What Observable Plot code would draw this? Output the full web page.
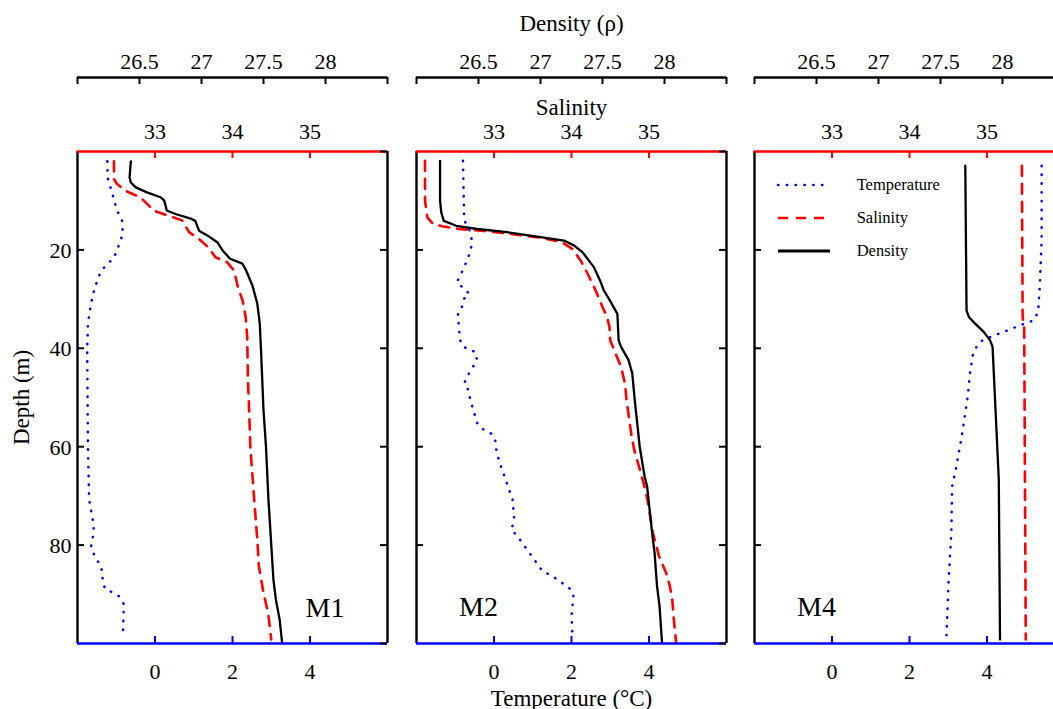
<!DOCTYPE html>
<html><head><meta charset="utf-8">
<script src="https://cdn.jsdelivr.net/npm/d3@7"></script>
<script src="https://cdn.jsdelivr.net/npm/@observablehq/plot@0.6"></script>
<style>
html,body{margin:0;padding:0;background:#fff;overflow:hidden;}
#chart{position:relative;width:1053px;height:709px;overflow:hidden;background:#fff;}
#chart svg{position:absolute;top:0;}
</style></head><body><div id="chart"></div>
<script>
// ---- scales / ticks ----
const tempDomain = [-2, 6];
const salDomain = [32, 36];
const densDomain = [26, 28.5];
const depthDomain = [0, 100];
const tempTicks = [0, 2, 4];
const salTicks = [33, 34, 35];
const densTicks = [26, 26.5, 27, 27.5, 28, 28.5];
const densLabels = [26.5, 27, 27.5, 28];
const depthTicks = [20, 40, 60, 80];
const depthTicksRight = [0, 20, 40, 60, 80, 100];
const stationNames = ["M1", "M2", "M4"];
const legendNames = ["Temperature", "Salinity", "Density"];

// ---- data: [depth (m), value] ----
const m1Temperature = [[2,-1.23],[5.4,-1.22],[8.6,-1.10],[12,-0.98],[14,-0.85],[16.7,-0.83],[18.7,-0.92],[20.2,-0.98],[21.8,-1.08],[23.2,-1.28],[24.8,-1.42],[27.6,-1.55],[29.7,-1.62],[32.3,-1.68],[35,-1.73],[40.4,-1.75],[50,-1.74],[60,-1.73],[70.8,-1.70],[74.2,-1.62],[76.2,-1.58],[78.2,-1.60],[80.3,-1.65],[82.6,-1.54],[84,-1.41],[85.6,-1.36],[87.3,-1.35],[88.9,-1.29],[89.6,-1.10],[90.4,-0.93],[91.9,-0.81],[93.7,-0.81],[98.8,-0.83]];
const m1Salinity = [[2,32.47],[5.6,32.47],[6.6,32.51],[8,32.62],[9.3,32.81],[11,32.92],[12,32.98],[13,33.16],[14,33.35],[16.4,33.44],[17.8,33.57],[19.5,33.69],[21.5,33.78],[22.5,33.93],[24.2,34.02],[27.6,34.07],[30.3,34.13],[33.7,34.17],[37.7,34.19],[47,34.2],[50.5,34.21],[60,34.23],[70.8,34.28],[78.9,34.32],[84.3,34.34],[89.7,34.40],[93.8,34.46],[99.2,34.50]];
const m1Density = [[2,26.43],[5.3,26.42],[6.3,26.43],[7.3,26.47],[8.3,26.56],[9.3,26.67],[10,26.70],[12,26.72],[12.7,26.79],[13.7,26.92],[14.1,26.95],[16.1,26.98],[17.1,27.05],[18.5,27.13],[20.1,27.17],[21.8,27.23],[22.8,27.33],[24.2,27.36],[27.2,27.41],[30.9,27.45],[35,27.47],[40.4,27.48],[52.6,27.50],[60,27.52],[70.8,27.54],[78.9,27.56],[87,27.58],[91.1,27.60],[95.1,27.63],[99.8,27.65]];

const m2Temperature = [[1.9,-0.80],[14,-0.77],[15.7,-0.64],[18.1,-0.57],[20.1,-0.60],[21.8,-0.68],[23.5,-0.77],[25.2,-0.87],[26.6,-0.96],[27.6,-0.81],[28.9,-0.64],[29.9,-0.77],[31.3,-0.81],[33,-0.93],[36.4,-0.90],[38.4,-0.87],[39.7,-0.79],[40.8,-0.47],[42.4,-0.44],[44.5,-0.60],[45.8,-0.70],[47.2,-0.77],[48.5,-0.66],[50.2,-0.62],[53.2,-0.51],[55.3,-0.43],[56.6,-0.26],[57.3,-0.08],[58.6,0.03],[61.3,0.07],[64,0.18],[66.7,0.30],[70.8,0.48],[74.8,0.52],[76.9,0.45],[78.2,0.61],[80.9,0.85],[83.6,1.10],[85.3,1.25],[86.3,1.51],[88,1.81],[89,1.98],[90.4,2.05],[94.4,2.0],[99.2,2.03]];
const m2Salinity = [[1.9,32.11],[10,32.11],[13.4,32.14],[14.7,32.21],[15.2,32.33],[15.75,32.55],[16.15,32.87],[16.8,33.24],[17.6,33.63],[18.45,33.88],[19.8,34.01],[22.2,34.12],[24.9,34.21],[28.2,34.31],[31.6,34.40],[33.7,34.46],[35.7,34.49],[38.4,34.50],[41.1,34.57],[43.8,34.64],[47.2,34.69],[50.5,34.71],[57.3,34.77],[60.7,34.81],[64,34.87],[67.4,34.93],[70.8,34.98],[77.5,35.05],[82.3,35.13],[85.6,35.22],[88.4,35.27],[91.1,35.30],[95.1,35.32],[99.8,35.35]];
const m2Density = [[1.9,26.19],[10,26.19],[12.4,26.20],[14.1,26.22],[15.1,26.32],[15.75,26.49],[16.4,26.73],[17.4,27.00],[18.1,27.19],[19.1,27.27],[20.5,27.34],[23.5,27.43],[26.2,27.48],[28.2,27.51],[30.3,27.56],[33,27.62],[38.4,27.63],[39.7,27.65],[42.4,27.71],[45.1,27.74],[50.5,27.76],[60,27.80],[66.1,27.84],[68.1,27.86],[77.5,27.90],[81.6,27.92],[88.4,27.94],[92.4,27.96],[99.8,27.98]];

const m4Temperature = [[2.9,5.41],[18.1,5.41],[27.6,5.36],[32.6,5.32],[34.3,5.21],[35.3,4.86],[36.4,4.52],[37.4,4.18],[38.4,3.88],[39.4,3.75],[41.1,3.64],[45.1,3.56],[49.2,3.51],[50.5,3.49],[57.3,3.36],[64,3.21],[68.1,3.10],[77.5,3.08],[87,3.01],[99.2,2.95]];
const m4Salinity = [[2.9,35.45],[33.7,35.46],[35.7,35.48],[99.2,35.50]];
const m4Density = [[2.9,27.70],[32.3,27.71],[33.7,27.73],[35,27.78],[36.7,27.85],[38.4,27.90],[39.7,27.92],[45.1,27.93],[50.5,27.94],[66.7,27.97],[99.2,27.98]];

// ---- map secondary quantities onto the temperature axis ----
const lin = (dom) => d3.scaleLinear().domain(dom).range(tempDomain);
const salToT = lin(salDomain);
const densToT = lin(densDomain);

const FONT = "'Liberation Serif', 'Times New Roman', serif";
const W = 397, H = 709, ML = 77, MR = 10, MT = 151, MB = 66;
const frameH = H - MT - MB, frameW = W - ML - MR, TICK = 7;
const DENS_OFFSET = -74;

const tempStyle = {stroke: "#0000ff", strokeWidth: 2.5, strokeDasharray: "0.4,8.4", strokeLinecap: "round"};
const salStyle = {stroke: "#ff0000", strokeWidth: 2.6, strokeDasharray: "10,8"};
const densStyle = {stroke: "#000000", strokeWidth: 2.3};

function panel(temp, sal, dens, name, idx) {
  const marks = [
    Plot.line(temp, {x: d => d[1], y: d => d[0], ...tempStyle}),
    Plot.line(sal, {x: d => salToT(d[1]), y: d => d[0], ...salStyle}),
    Plot.line(dens, {x: d => densToT(d[1]), y: d => d[0], ...densStyle}),
    Plot.ruleX(tempDomain, {stroke: "black", strokeWidth: 2.4}),
    Plot.ruleY([depthDomain[0]], {stroke: "#ff0000", strokeWidth: 2.6}),
    Plot.ruleY([depthDomain[1]], {stroke: "#0000ff", strokeWidth: 2.6}),
    Plot.ruleX(salTicks.map(salToT), {stroke: "#ff0000", strokeWidth: 2, insetBottom: frameH - TICK}),
    Plot.ruleX(tempTicks, {stroke: "#0000ff", strokeWidth: 2, insetTop: frameH - TICK}),
    Plot.ruleY(depthTicks, {stroke: "black", strokeWidth: 2, insetRight: frameW - TICK}),
    Plot.ruleY(depthTicksRight, {stroke: "black", strokeWidth: 2, insetLeft: frameW - TICK}),
    // density axis above
    Plot.ruleY([depthDomain[0]], {stroke: "black", strokeWidth: 2.6, dy: DENS_OFFSET}),
    Plot.ruleX(densTicks.map(densToT), {stroke: "black", strokeWidth: 2, insetBottom: frameH - TICK, dy: DENS_OFFSET}),
    Plot.text(densLabels, {x: d => densToT(d), text: d => String(d), frameAnchor: "top", lineAnchor: "bottom", dy: -82.8, fontSize: 22}),
    Plot.text(salTicks, {x: d => salToT(d), text: d => String(d), frameAnchor: "top", lineAnchor: "bottom", dy: -12.1, fontSize: 22}),
    Plot.text(tempTicks, {x: d => d, text: d => String(d), frameAnchor: "bottom", lineAnchor: "bottom", dy: 35.2, fontSize: 22}),
    idx === 0
      ? Plot.text([name], {frameAnchor: "bottom-right", textAnchor: "start", lineAnchor: "bottom", dx: -82, dy: -27, fontSize: 28})
      : Plot.text([name], {frameAnchor: "bottom-left", textAnchor: "start", lineAnchor: "bottom", dx: 42.5, dy: -28, fontSize: 28})
  ];
  if (idx === 0) {
    marks.push(
      Plot.text(depthTicks, {y: d => d, text: d => String(d), frameAnchor: "left", textAnchor: "end", lineAnchor: "bottom", dx: -6, dy: 8, fontSize: 22}),
      Plot.text(["Depth (m)"], {frameAnchor: "left", rotate: -90, textAnchor: "middle", lineAnchor: "bottom", dx: -48.5, fontSize: 23})
    );
  }
  if (idx === 1) {
    marks.push(
      Plot.text(["Density (ρ)"], {frameAnchor: "top", lineAnchor: "bottom", dy: -120.8, fontSize: 23}),
      Plot.text(["Salinity"], {frameAnchor: "top", lineAnchor: "bottom", dy: -36.5, fontSize: 23}),
      Plot.text(["Temperature (°C)"], {frameAnchor: "bottom", lineAnchor: "bottom", dy: 62, fontSize: 23})
    );
  }
  return Plot.plot({
    width: W, height: H, marginLeft: ML, marginRight: MR, marginTop: MT, marginBottom: MB,
    x: {domain: tempDomain, axis: null},
    y: {domain: depthDomain, reverse: true, axis: null},
    style: {fontFamily: FONT, background: "transparent", overflow: "visible", color: "black"},
    marks
  });
}

const chart = document.getElementById("chart");
const lefts = [0, 338.5, 677];
const stations = [
  [m1Temperature, m1Salinity, m1Density],
  [m2Temperature, m2Salinity, m2Density],
  [m4Temperature, m4Salinity, m4Density]
];
stations.forEach((s, i) => {
  const svg = panel(s[0], s[1], s[2], stationNames[i], i);
  svg.style.left = lefts[i] + "px";
  chart.appendChild(svg);
});

// ---- legend (inside panel M4) ----
const legendStyles = [tempStyle, salStyle, {...densStyle, strokeWidth: 3}];
const leg = d3.create("svg")
  .attr("width", 220).attr("height", 110)
  .style("position", "absolute").style("left", "760px").style("top", "160px")
  .style("font-family", FONT);
legendNames.forEach((n, i) => {
  const y = 25 + i * 33;
  const st = legendStyles[i];
  leg.append("line").attr("x1", 18).attr("x2", 70).attr("y1", y).attr("y2", y)
    .attr("stroke", st.stroke).attr("stroke-width", st.strokeWidth)
    .attr("stroke-dasharray", st.strokeDasharray || null)
    .attr("stroke-linecap", st.strokeLinecap || null);
  leg.append("text").attr("x", 96.7).attr("y", y).attr("dy", "0.32em")
    .attr("font-size", 16.5).attr("fill", "black").text(n);
});
chart.appendChild(leg.node());
</script></body></html>
